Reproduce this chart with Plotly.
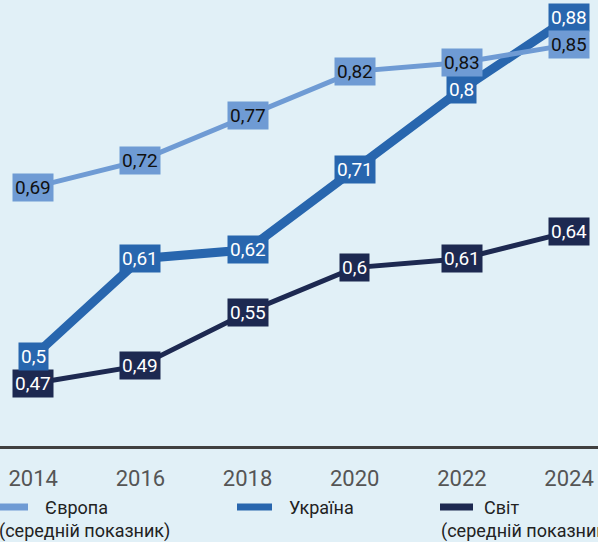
import plotly.graph_objects as go

years = [2014, 2016, 2018, 2020, 2022, 2024]
europe = [0.69, 0.72, 0.77, 0.82, 0.83, 0.85]
ukraine = [0.50, 0.61, 0.62, 0.71, 0.80, 0.88]
world = [0.47, 0.49, 0.55, 0.60, 0.61, 0.64]

series_names = ["Європа", "Україна", "Світ"]
series_notes = ["(середній показник)", "", "(середній показник)"]

BG = "#e1f0f7"
EUROPE = "#6f9bd4"
UKRAINE = "#2866ae"
WORLD = "#1d2951"
FONT = "Roboto"
W, H_PLOT = 598, 446


def fmt(v):
    return f"{v:g}".replace(".", ",")


def px(x):
    return x / W


def py(y):
    return (H_PLOT - y) / H_PLOT


fig = go.Figure()
specs = [
    (ukraine, series_names[1], UKRAINE, 9),
    (europe, series_names[0], EUROPE, 5),
    (world, series_names[2], WORLD, 5),
]
for values, name, color, width in specs:
    fig.add_trace(go.Scatter(x=years, y=values, mode="lines", name=name,
                             line={"color": color, "width": width}, hoverinfo="skip"))

# value boxes
label_specs = [
    (world, WORLD, "white"),
    (ukraine, UKRAINE, "white"),
    (europe, EUROPE, "#111111"),
]
for values, color, text_color in label_specs:
    for x, v in zip(years, values):
        fig.add_annotation(x=x, y=v, text=fmt(v), showarrow=False, bgcolor=color,
                           borderpad=2, font={"family": FONT, "size": 19, "color": text_color})

# legend drawn below the axis
legend_font = {"family": FONT, "size": 18, "color": "#222222"}
legend_swatches = [(-2, 28, EUROPE), (237, 272, UKRAINE), (440, 473, WORLD)]
legend_text_x = [43, 287, 482]
for (x0, x1, color), tx, name in zip(legend_swatches, legend_text_x, series_names):
    fig.add_shape(type="line", xref="paper", yref="paper", x0=px(x0), x1=px(x1), y0=py(507), y1=py(507),
                  line={"color": color, "width": 7})
    fig.add_annotation(xref="paper", yref="paper", x=px(tx), y=py(507), text=name, showarrow=False,
                       xanchor="left", yanchor="middle", font=legend_font)
fig.add_annotation(xref="paper", yref="paper", x=px(172), y=py(531), text=series_notes[0], showarrow=False,
                   xanchor="right", yanchor="middle", font=legend_font)
fig.add_annotation(xref="paper", yref="paper", x=px(439), y=py(531), text=series_notes[2], showarrow=False,
                   xanchor="left", yanchor="middle", font=legend_font)

fig.update_xaxes(range=[2013.38, 2024.54], tickvals=years, showgrid=False, zeroline=False,
                 showline=True, linecolor="#404040", linewidth=3, ticks="", ticklabelstandoff=11,
                 tickfont={"family": FONT, "size": 22, "color": "#555555"})
fig.update_yaxes(range=[0.4, 0.9], visible=False, showgrid=False)
fig.update_layout(
    width=598, height=542,
    margin={"l": 0, "r": 0, "t": 0, "b": 96},
    paper_bgcolor=BG, plot_bgcolor=BG,
    showlegend=False,
)

fig.write_html("out.html", config={"displayModeBar": False},
               post_script="document.body.style.margin='0';")
